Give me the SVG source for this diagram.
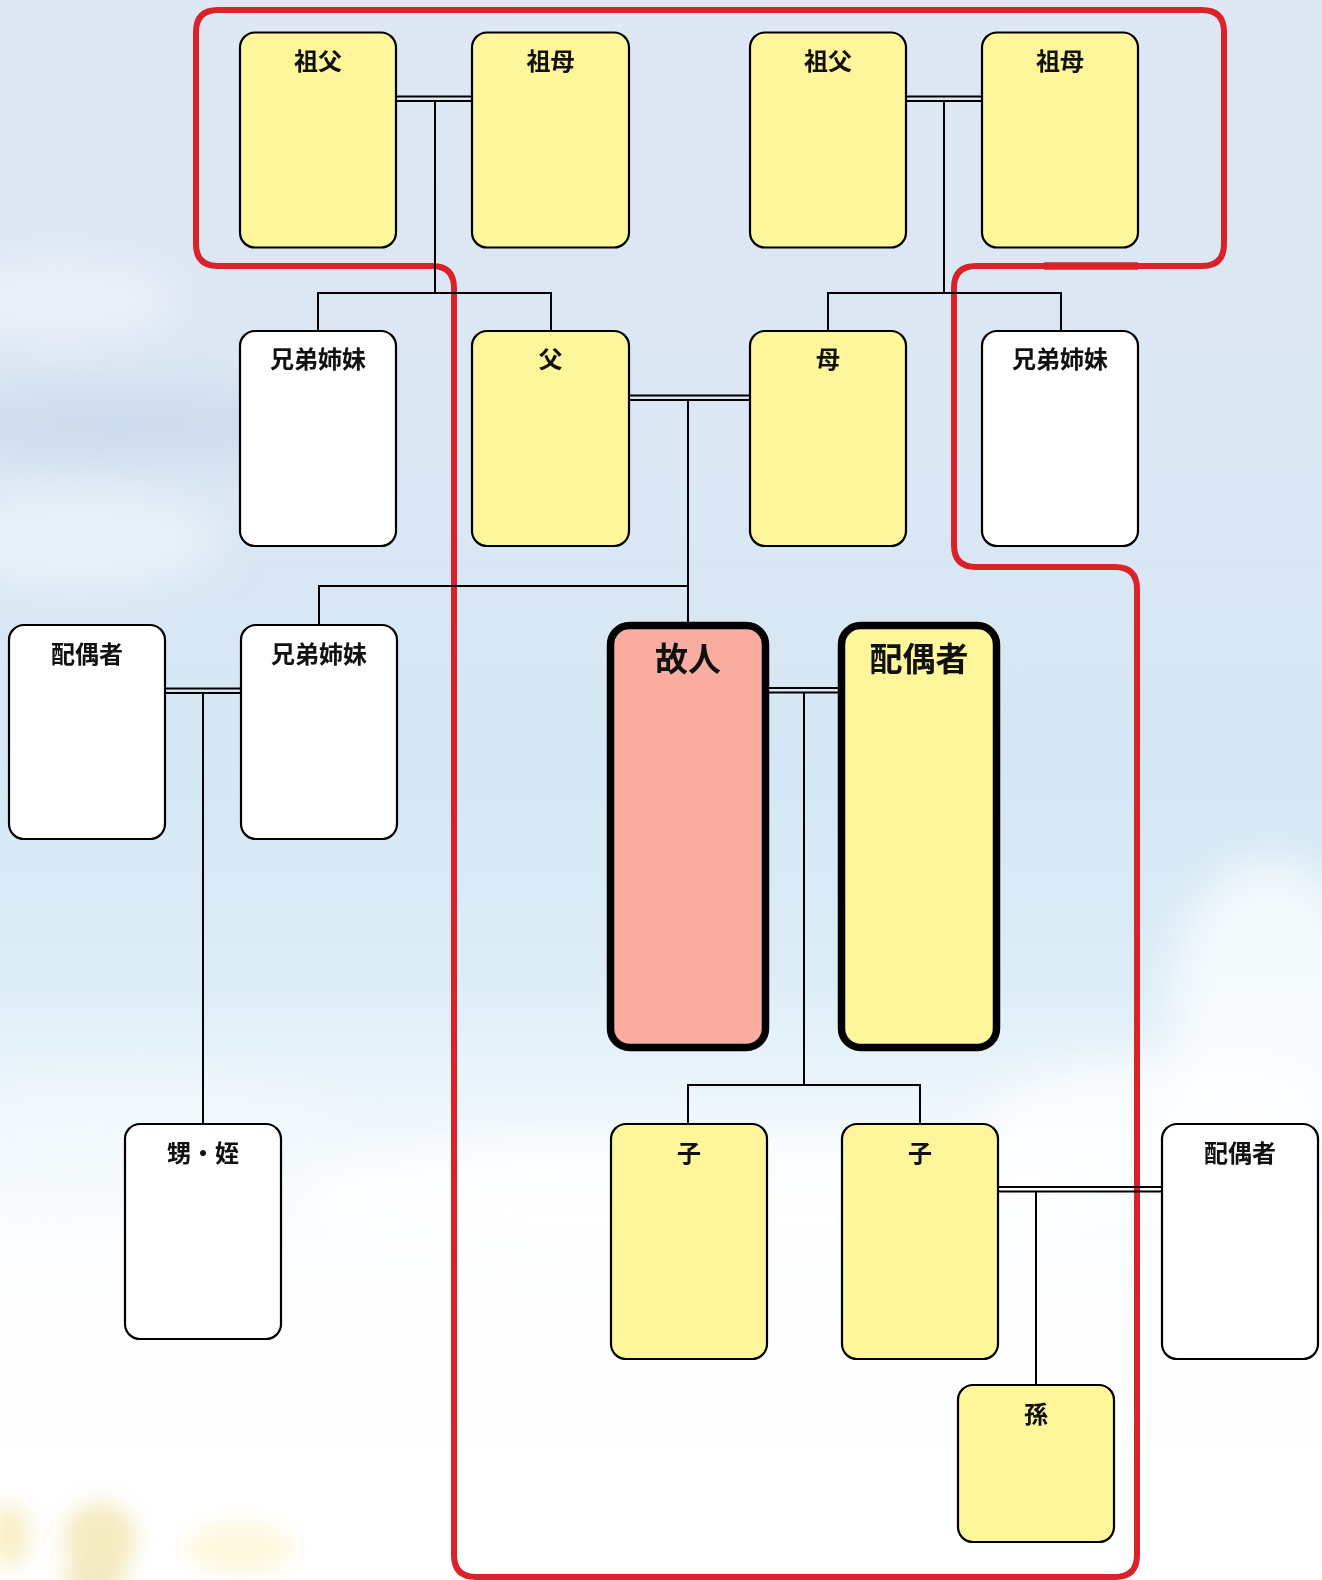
<svg xmlns="http://www.w3.org/2000/svg" width="1322" height="1580" viewBox="0 0 1322 1580">
  <style>
    .box { stroke: #000; stroke-width: 2.2; }
    .y { fill: #fef69b; }
    .w { fill: #ffffff; }
    .main { stroke: #000; stroke-width: 7.5; }
    .dec { fill: #f9ada1; }
    .lbl { font-family: "Noto Sans CJK JP", "Noto Sans", sans-serif; font-weight: 700; font-size: 24px; fill: #111; text-anchor: middle; }
    .big { font-size: 33px; }
    .ln { stroke: #000; stroke-width: 2; fill: none; }
    .red { stroke: #da2229; stroke-width: 6; fill: none; stroke-linejoin: round; }
  </style>
  <defs>
    <linearGradient id="sky" x1="0" y1="0" x2="0" y2="1">
      <stop offset="0" stop-color="#dfe7f4"/>
      <stop offset="0.3" stop-color="#dbe7f4"/>
      <stop offset="0.5" stop-color="#d5e8f5"/>
      <stop offset="0.62" stop-color="#dcedf7"/>
      <stop offset="0.72" stop-color="#f1f8fc"/>
      <stop offset="0.8" stop-color="#fdfeff"/>
      <stop offset="1" stop-color="#ffffff"/>
    </linearGradient>
    <filter id="blur" x="-50%" y="-50%" width="200%" height="200%">
      <feGaussianBlur stdDeviation="22"/>
    </filter>
    <filter id="blur2" x="-50%" y="-50%" width="200%" height="200%">
      <feGaussianBlur stdDeviation="10"/>
    </filter>
  </defs>

  <!-- background -->
  <rect x="0" y="0" width="1322" height="1580" fill="url(#sky)"/>
  <g filter="url(#blur)">
    <ellipse cx="120" cy="425" rx="200" ry="35" fill="#c6d7ea" opacity="0.7"/>
    <ellipse cx="60" cy="300" rx="120" ry="40" fill="#eef3fa" opacity="0.8"/>
    <ellipse cx="80" cy="540" rx="140" ry="50" fill="#eef5fb" opacity="0.7"/>
    <ellipse cx="1270" cy="1010" rx="100" ry="150" fill="#ffffff" opacity="0.7"/>
    <ellipse cx="1150" cy="1140" rx="180" ry="80" fill="#ffffff" opacity="0.7"/>
    <ellipse cx="140" cy="1130" rx="200" ry="50" fill="#f3f9fd" opacity="0.8"/>
    <ellipse cx="700" cy="1200" rx="400" ry="60" fill="#ffffff" opacity="0.8"/>
  </g>
  <g filter="url(#blur2)" opacity="0.55">
    <ellipse cx="10" cy="1535" rx="20" ry="32" fill="#f4e39a"/>
    <ellipse cx="100" cy="1540" rx="36" ry="38" fill="#efdc8e"/>
    <ellipse cx="95" cy="1578" rx="32" ry="18" fill="#e9d890"/>
    <ellipse cx="240" cy="1548" rx="55" ry="26" fill="#fbf3c4"/>
  </g>

  <!-- red boundary -->
  <path class="red" d="M218,10 H1202 Q1224,10 1224,32 V244 Q1224,266 1202,266 H976 Q954,266 954,288 V545 Q954,567 976,567 H1115 Q1137,567 1137,589 V1555 Q1137,1577 1115,1577 H476 Q454,1577 454,1555 V288 Q454,266 432,266 H218 Q196,266 196,244 V32 Q196,10 218,10 Z"/>
  <line x1="1044" y1="266" x2="1138" y2="266" stroke="#da2229" stroke-width="7.5"/>

  <!-- connectors -->
  <g id="connectors">
    <line class="ln" x1="396" y1="96.5" x2="472" y2="96.5"/>
    <line class="ln" x1="396" y1="101" x2="472" y2="101"/>
    <line class="ln" x1="435" y1="101" x2="435" y2="293"/>
    <polyline class="ln" points="318,331 318,293 551,293 551,331"/>
    <line class="ln" x1="906" y1="96.5" x2="982" y2="96.5"/>
    <line class="ln" x1="906" y1="101" x2="982" y2="101"/>
    <line class="ln" x1="944" y1="101" x2="944" y2="293"/>
    <polyline class="ln" points="828,331 828,293 1061,293 1061,331"/>
    <line class="ln" x1="629" y1="395.5" x2="751" y2="395.5"/>
    <line class="ln" x1="629" y1="400" x2="751" y2="400"/>
    <line class="ln" x1="688" y1="400" x2="688" y2="622"/>
    <polyline class="ln" points="319,625 319,586 688,586"/>
    <line class="ln" x1="165" y1="688.5" x2="241" y2="688.5"/>
    <line class="ln" x1="165" y1="693" x2="241" y2="693"/>
    <line class="ln" x1="203" y1="693" x2="203" y2="1124"/>
    <line class="ln" x1="767" y1="688" x2="839" y2="688"/>
    <line class="ln" x1="767" y1="692.5" x2="839" y2="692.5"/>
    <line class="ln" x1="804" y1="692.5" x2="804" y2="1085"/>
    <polyline class="ln" points="688,1124 688,1085 920,1085 920,1124"/>
    <line class="ln" x1="998" y1="1187" x2="1162" y2="1187"/>
    <line class="ln" x1="998" y1="1191.5" x2="1162" y2="1191.5"/>
    <line class="ln" x1="1036" y1="1191.5" x2="1036" y2="1385"/>
  </g>

  <!-- row 1 -->
  <g id="gf-p"><rect class="box y" x="240" y="32.5" width="156" height="215" rx="15"/><text class="lbl" x="318" y="70">祖父</text></g>
  <g id="gm-p"><rect class="box y" x="472" y="32.5" width="157" height="215" rx="15"/><text class="lbl" x="550.5" y="70">祖母</text></g>
  <g id="gf-m"><rect class="box y" x="750" y="32.5" width="156" height="215" rx="15"/><text class="lbl" x="828" y="70">祖父</text></g>
  <g id="gm-m"><rect class="box y" x="982" y="32.5" width="156" height="215" rx="15"/><text class="lbl" x="1060" y="70">祖母</text></g>

  <!-- row 2 -->
  <g id="sib-p"><rect class="box w" x="240" y="331" width="156" height="215" rx="15"/><text class="lbl" x="318" y="368">兄弟姉妹</text></g>
  <g id="father"><rect class="box y" x="472" y="331" width="157" height="215" rx="15"/><text class="lbl" x="550.5" y="368">父</text></g>
  <g id="mother"><rect class="box y" x="750" y="331" width="156" height="215" rx="15"/><text class="lbl" x="828" y="368">母</text></g>
  <g id="sib-m"><rect class="box w" x="982" y="331" width="156" height="215" rx="15"/><text class="lbl" x="1060" y="368">兄弟姉妹</text></g>

  <!-- row 3 -->
  <g id="sib-spouse"><rect class="box w" x="9" y="625" width="156" height="214" rx="15"/><text class="lbl" x="87" y="663">配偶者</text></g>
  <g id="sibling"><rect class="box w" x="241" y="625" width="156" height="214" rx="15"/><text class="lbl" x="319" y="663">兄弟姉妹</text></g>
  <g id="deceased"><rect class="main dec" x="610.5" y="625.5" width="155" height="422" rx="19"/><text class="lbl big" x="688" y="671">故人</text></g>
  <g id="spouse"><rect class="main y" x="841.5" y="625.5" width="155" height="422" rx="19"/><text class="lbl big" x="919" y="671">配偶者</text></g>

  <!-- row 4 -->
  <g id="nephew"><rect class="box w" x="125" y="1124" width="156" height="215" rx="15"/><text class="lbl" x="203" y="1162">甥・姪</text></g>
  <g id="child1"><rect class="box y" x="611" y="1124" width="156" height="235" rx="15"/><text class="lbl" x="689" y="1162">子</text></g>
  <g id="child2"><rect class="box y" x="842" y="1124" width="156" height="235" rx="15"/><text class="lbl" x="920" y="1162">子</text></g>
  <g id="child-spouse"><rect class="box w" x="1162" y="1124" width="156" height="235" rx="15"/><text class="lbl" x="1240" y="1162">配偶者</text></g>

  <!-- row 5 -->
  <g id="grandchild"><rect class="box y" x="958" y="1385" width="156" height="157" rx="15"/><text class="lbl" x="1036" y="1423">孫</text></g>
</svg>
